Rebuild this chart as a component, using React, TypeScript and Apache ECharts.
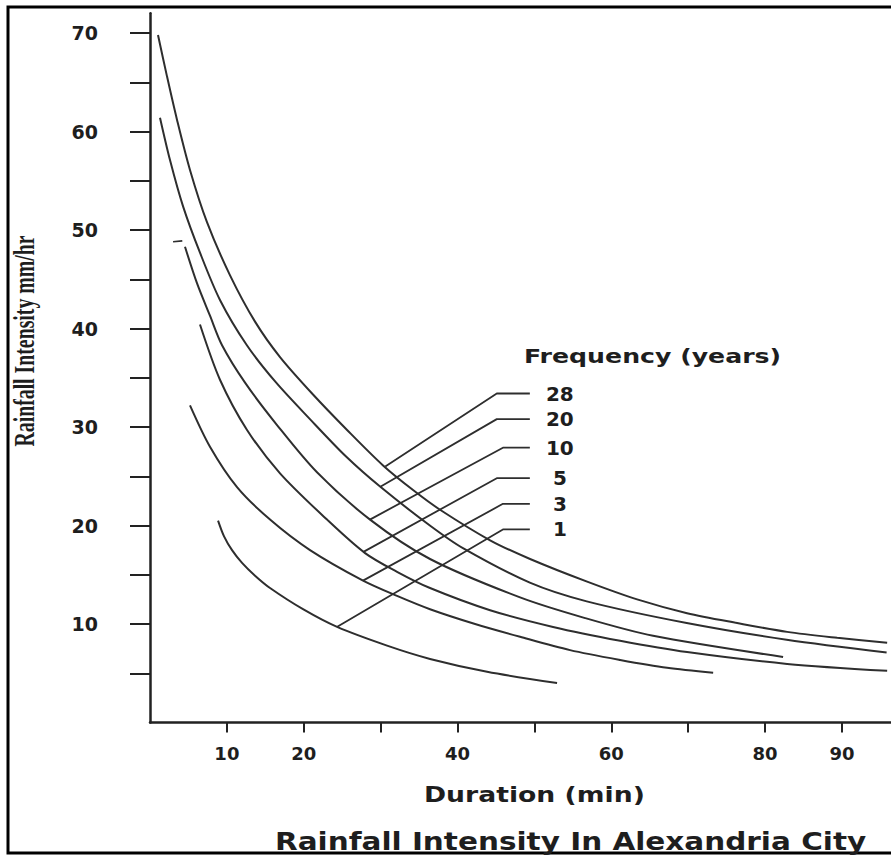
import React, { useEffect, useRef } from "react";
import * as echarts from "echarts";

// ---- axis ticks / labels ----
const X_TICKS = [10, 20, 30, 40, 50, 60, 70, 80, 90];
const X_LABELS = [10, 20, 40, 60, 80, 90];
const Y_TICKS = [5, 10, 15, 20, 25, 30, 35, 40, 45, 50, 55, 60, 65, 70];
const Y_LABELS = [10, 20, 30, 40, 50, 60, 70];

// ---- return periods (years) ----
const FREQUENCIES = ["28", "20", "10", "5", "3", "1"];

// ---- IDF curves: [duration (min), intensity (mm/hr)] ----
const CURVE_28: [number, number][] = [
  [1.04, 69.8], [2.21, 65.6], [3.51, 61.2], [5.2, 56.1], [7.41, 50.8], [10.41, 45.4],
  [13.66, 40.7], [16.91, 37.1], [21.2, 33.3], [25.63, 29.7], [30.31, 26.1], [34.21, 23.6],
  [37.72, 21.6], [44.23, 18.5], [49.43, 16.6], [56.85, 14.3], [63.35, 12.5], [69.85, 11.1],
  [76.36, 10.1], [82.86, 9.2], [89.37, 8.6], [95.87, 8.1],
];
const CURVE_20: [number, number][] = [
  [1.3, 61.4], [2.6, 57.1], [4.3, 52.4], [6.5, 47.7], [9.1, 42.9], [12.6, 38.3],
  [16.3, 34.6], [20.8, 30.8], [25.5, 27.0], [30.0, 23.9], [36.4, 20.0], [40.7, 17.7],
  [49.4, 14.2], [56.8, 12.3], [69.8, 10.1], [82.8, 8.4], [95.8, 7.1],
];
const CURVE_10: [number, number][] = [
  [4.55, 48.3], [6.11, 44.6], [7.8, 41.3], [9.37, 38.3], [12.36, 34.5], [16.52, 30.2],
  [21.72, 25.4], [28.62, 20.6], [36.42, 16.6], [48.13, 12.7], [56.59, 10.6], [65.43, 8.8],
  [82.34, 6.65],
];
const MARK_10: [number, number][] = [[3.0, 48.8], [4.2, 48.9]];
const CURVE_5: [number, number][] = [
  [6.5, 40.4], [9.1, 34.8], [12.62, 29.7], [16.91, 25.3], [23.02, 20.6], [27.97, 17.2],
  [32.13, 15.3], [36.42, 13.65], [44.23, 11.4], [52.42, 9.7], [61.14, 8.3], [69.85, 7.15],
  [82.86, 5.95], [95.87, 5.25],
];
const CURVE_3: [number, number][] = [
  [5.2, 32.2], [7.8, 28.0], [11.32, 23.9], [15.61, 20.6], [20.81, 17.5], [27.71, 14.4],
  [32.13, 12.85], [36.42, 11.5], [42.28, 10.0], [48.13, 8.7], [54.63, 7.35], [61.14, 6.35],
  [67.25, 5.55], [73.24, 5.05],
];
const CURVE_1: [number, number][] = [
  [8.85, 20.5], [9.63, 18.9], [10.67, 17.5], [11.97, 16.2], [13.66, 14.9], [15.61, 13.65],
  [19.9, 11.5], [24.33, 9.7], [30.83, 7.8], [36.42, 6.45], [43.84, 5.15], [52.94, 4.0],
];

// ---- leader lines from each curve to its label ----
const LEADER_28: [number, number][] = [[30.6, 26.0], [45.1, 33.4], [49.4, 33.4]];
const LEADER_20: [number, number][] = [[29.9, 23.9], [45.1, 30.8], [49.4, 30.8]];
const LEADER_10: [number, number][] = [[28.6, 20.6], [45.9, 27.9], [49.4, 27.9]];
const LEADER_5: [number, number][] = [[27.7, 17.3], [45.1, 24.8], [49.4, 24.8]];
const LEADER_3: [number, number][] = [[27.7, 14.4], [45.9, 22.2], [49.4, 22.2]];
const LEADER_1: [number, number][] = [[24.3, 9.7], [45.9, 19.6], [49.4, 19.6]];

const CURVES = [CURVE_28, CURVE_20, CURVE_10, CURVE_5, CURVE_3, CURVE_1];
const LEADERS = [LEADER_28, LEADER_20, LEADER_10, LEADER_5, LEADER_3, LEADER_1];

const TEXT_COLOR = "#1e1e1e";
const LINE_COLOR = "#2e2e2e";
const SANS = "DejaVu Sans";

export default function App() {
  const ref = useRef<HTMLDivElement>(null);

  useEffect(() => {
    if (!ref.current) return;
    const chart = echarts.init(ref.current, undefined, { renderer: "svg" });

    const curveSeries = CURVES.map((data, i) => ({
      type: "line",
      name: `${FREQUENCIES[i]} years`,
      data,
      smooth: 0.3,
      symbol: "none",
      silent: true,
      lineStyle: { color: LINE_COLOR, width: 2 },
    }));

    const leaderSeries = LEADERS.map((data, i) => ({
      type: "line",
      name: `${FREQUENCIES[i]} leader`,
      data,
      smooth: false,
      symbol: "none",
      silent: true,
      lineStyle: { color: LINE_COLOR, width: 1.8 },
      endLabel: {
        show: true,
        formatter: () => FREQUENCIES[i],
        align: "center",
        verticalAlign: "middle",
        distance: 30,
        fontSize: 20,
        fontWeight: "bold",
        fontFamily: SANS,
        color: TEXT_COLOR,
      },
    }));

    const option: any = {
      animation: false,
      backgroundColor: "#ffffff",
      grid: {
        left: 150,
        top: 13.3,
        width: 742,
        bottom: 133.5,
        outerBoundsMode: "none",
      },
      xAxis: {
        type: "value",
        min: 0,
        max: 96.5,
        splitLine: { show: false },
        axisLine: { show: true, lineStyle: { color: "#222", width: 2.5 } },
        axisTick: {
          show: true,
          customValues: X_TICKS,
          length: 10,
          lineStyle: { color: "#222", width: 2 },
        },
        axisLabel: {
          customValues: X_LABELS,
          margin: 22,
          fontSize: 18,
          fontWeight: "bold",
          fontFamily: SANS,
          color: TEXT_COLOR,
        },
      },
      yAxis: {
        type: "value",
        min: 0,
        max: 72,
        splitLine: { show: false },
        axisLine: { show: true, lineStyle: { color: "#222", width: 2.5 } },
        axisTick: {
          show: true,
          customValues: Y_TICKS,
          length: 20,
          lineStyle: { color: "#222", width: 2 },
        },
        axisLabel: {
          customValues: Y_LABELS,
          margin: 52,
          fontSize: 19,
          fontWeight: "bold",
          fontFamily: SANS,
          color: TEXT_COLOR,
        },
      },
      graphic: [
        {
          type: "rect",
          shape: { x: 8, y: 7, width: 895, height: 846 },
          style: { fill: "none", stroke: "#000", lineWidth: 3 },
          silent: true,
        },
        {
          type: "text",
          x: 23,
          y: 341,
          rotation: Math.PI / 2,
          scaleX: 0.66,
          style: {
            text: "Rainfall Intensity mm/hr",
            fontSize: 30,
            fontWeight: "bold",
            fontFamily: "Liberation Serif",
            fill: TEXT_COLOR,
            align: "center",
            verticalAlign: "middle",
          },
        },
        {
          type: "text",
          x: 524,
          y: 356,
          scaleX: 1.26,
          style: {
            text: "Frequency (years)",
            fontSize: 20,
            fontWeight: "bold",
            fontFamily: SANS,
            fill: TEXT_COLOR,
            align: "left",
            verticalAlign: "middle",
          },
        },
        {
          type: "text",
          x: 424,
          y: 795,
          scaleX: 1.3,
          style: {
            text: "Duration (min)",
            fontSize: 20.5,
            fontWeight: "bold",
            fontFamily: SANS,
            fill: TEXT_COLOR,
            align: "left",
            verticalAlign: "middle",
          },
        },
        {
          type: "text",
          x: 275,
          y: 841,
          scaleX: 1.18,
          style: {
            text: "Rainfall Intensity In Alexandria City",
            fontSize: 25,
            fontWeight: "bold",
            fontFamily: SANS,
            fill: TEXT_COLOR,
            align: "left",
            verticalAlign: "middle",
          },
        },
      ],
      series: [
        ...curveSeries,
        {
          type: "line",
          name: "10 years mark",
          data: MARK_10,
          symbol: "none",
          silent: true,
          lineStyle: { color: LINE_COLOR, width: 1.6 },
        },
        ...leaderSeries,
      ],
    };

    chart.setOption(option);
    return () => chart.dispose();
  }, []);

  return (
    <div
      ref={ref}
      style={{ position: "fixed", left: 0, top: 0, width: 891, height: 856, background: "#fff" }}
    />
  );
}
